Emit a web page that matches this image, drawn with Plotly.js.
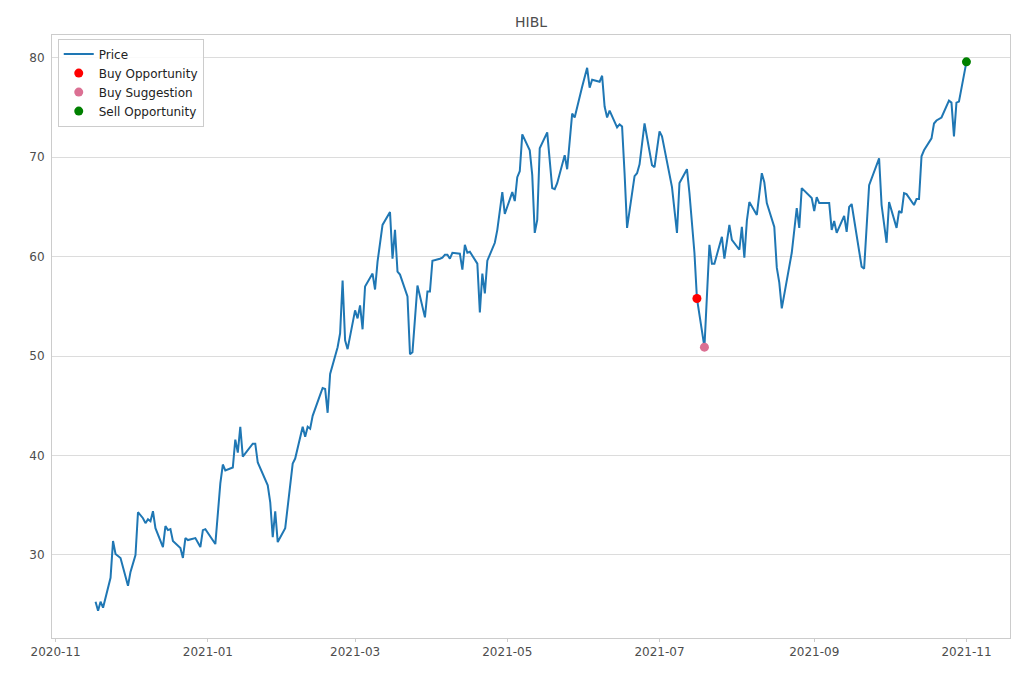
<!DOCTYPE html>
<html>
<head>
<meta charset="utf-8">
<script src="https://cdn.plot.ly/plotly-3.0.1.min.js"></script>
<style>html,body{margin:0;padding:0;background:#fff;}#chart{width:1020px;height:680px;}</style>
</head>
<body>
<div id="chart"></div>
<script>
const dates = [
"2020-11-17","2020-11-18","2020-11-19","2020-11-20","2020-11-23","2020-11-24","2020-11-25","2020-11-27","2020-11-30",
"2020-12-01","2020-12-03","2020-12-04","2020-12-06","2020-12-07","2020-12-08","2020-12-09","2020-12-10","2020-12-11",
"2020-12-14","2020-12-15","2020-12-16","2020-12-17","2020-12-18","2020-12-21","2020-12-22","2020-12-23","2020-12-24",
"2020-12-27","2020-12-29","2020-12-30","2020-12-31",
"2021-01-04","2021-01-06","2021-01-07","2021-01-08","2021-01-11","2021-01-12","2021-01-13","2021-01-14","2021-01-15",
"2021-01-19","2021-01-20","2021-01-21","2021-01-25","2021-01-26","2021-01-27","2021-01-28","2021-01-29",
"2021-02-01","2021-02-02","2021-02-04","2021-02-05","2021-02-08","2021-02-09","2021-02-10","2021-02-11","2021-02-12",
"2021-02-15","2021-02-16","2021-02-17","2021-02-18","2021-02-19","2021-02-22","2021-02-23","2021-02-24","2021-02-25","2021-02-26",
"2021-03-01","2021-03-02","2021-03-03","2021-03-04","2021-03-05","2021-03-08","2021-03-09","2021-03-10","2021-03-12",
"2021-03-15","2021-03-16","2021-03-17","2021-03-18","2021-03-19","2021-03-22","2021-03-23","2021-03-24","2021-03-26",
"2021-03-29","2021-03-30","2021-03-31",
"2021-04-01","2021-04-04","2021-04-05","2021-04-06","2021-04-07","2021-04-08","2021-04-09","2021-04-12","2021-04-13",
"2021-04-14","2021-04-15","2021-04-16","2021-04-19","2021-04-20","2021-04-21","2021-04-22","2021-04-23","2021-04-26",
"2021-04-27","2021-04-29","2021-04-30",
"2021-05-03","2021-05-04","2021-05-05","2021-05-06","2021-05-07","2021-05-10","2021-05-11","2021-05-12","2021-05-13",
"2021-05-14","2021-05-17","2021-05-19","2021-05-20","2021-05-21","2021-05-24","2021-05-25","2021-05-27","2021-05-28","2021-05-31",
"2021-06-02","2021-06-03","2021-06-04","2021-06-07","2021-06-08","2021-06-09","2021-06-10","2021-06-11","2021-06-14",
"2021-06-15","2021-06-16","2021-06-17","2021-06-18","2021-06-21","2021-06-22","2021-06-23","2021-06-25","2021-06-28","2021-06-29",
"2021-07-01","2021-07-02","2021-07-06","2021-07-08","2021-07-09","2021-07-12","2021-07-13","2021-07-15","2021-07-16",
"2021-07-19","2021-07-21","2021-07-22","2021-07-23","2021-07-26","2021-07-27","2021-07-29","2021-07-30",
"2021-08-02","2021-08-03","2021-08-04","2021-08-05","2021-08-06","2021-08-09","2021-08-11","2021-08-12","2021-08-13",
"2021-08-16","2021-08-17","2021-08-18","2021-08-19","2021-08-23","2021-08-24","2021-08-25","2021-08-26","2021-08-27","2021-08-31",
"2021-09-01","2021-09-02","2021-09-03","2021-09-07","2021-09-08","2021-09-09","2021-09-10","2021-09-13","2021-09-14",
"2021-09-15","2021-09-16","2021-09-20","2021-09-21","2021-09-23","2021-09-27","2021-09-28","2021-09-30",
"2021-10-01","2021-10-04","2021-10-05","2021-10-06","2021-10-07","2021-10-08","2021-10-11","2021-10-12","2021-10-13",
"2021-10-14","2021-10-15","2021-10-18","2021-10-19","2021-10-20","2021-10-22","2021-10-25","2021-10-26","2021-10-27",
"2021-10-28","2021-10-29","2021-11-01"
];
const prices = [
25.3,24.4,25.3,24.7,27.7,31.4,30.1,29.7,26.9,
28.3,30.0,34.3,33.7,33.2,33.6,33.4,34.4,32.7,
30.8,32.9,32.5,32.6,31.4,30.7,29.7,31.7,31.5,
31.7,30.8,32.5,32.6,
31.1,37.2,39.1,38.5,38.8,41.6,40.3,42.9,39.9,
41.2,41.2,39.3,37.0,35.3,31.8,34.4,31.3,
32.7,34.7,39.2,39.7,42.9,41.9,42.9,42.7,44.0,
46.1,46.8,46.7,44.3,48.2,50.9,52.3,57.6,51.6,50.7,
54.6,53.8,55.1,52.7,57.0,58.3,56.7,59.5,63.2,
64.5,59.8,62.7,58.5,58.2,56.0,50.2,50.4,57.1,
53.9,56.5,56.5,
59.6,59.8,59.9,60.2,60.2,59.8,60.4,60.3,58.7,
61.2,60.4,60.5,59.3,54.4,58.3,56.3,59.6,61.4,
62.7,66.5,64.3,
66.5,65.6,68.0,68.6,72.3,70.7,68.2,62.4,63.7,
70.9,72.5,66.9,66.8,67.4,70.2,68.8,74.4,74.0,77.1,
79.0,77.0,77.8,77.6,78.2,75.1,74.0,74.7,73.0,
73.3,73.1,68.4,62.9,68.1,68.4,69.3,73.4,69.2,69.0,
72.6,72.1,67.0,62.4,67.4,68.8,66.4,60.4,55.8,
50.9,61.2,59.3,59.3,62.0,59.8,63.2,61.7,
60.7,63.0,59.9,63.6,65.5,64.2,68.4,67.5,65.4,
63.0,58.9,57.4,54.8,60.4,62.7,64.9,62.9,66.9,65.9,
64.6,66.0,65.4,65.4,62.7,63.6,62.4,64.1,62.5,
65.0,65.3,59.0,58.8,67.2,69.9,65.2,61.4,
65.5,62.9,64.6,64.4,66.4,66.3,65.2,65.8,65.8,
70.1,70.7,71.9,73.4,73.7,74.0,75.7,75.5,72.1,
75.5,75.6,79.6
];
const buyOppDates = ["2021-07-16"];
const buyOppPrices = [55.8];
const buySugDates = ["2021-07-19"];
const buySugPrices = [50.9];
const sellOppDates = ["2021-11-01"];
const sellOppPrices = [79.6];
const xTickVals = ["2020-11-01","2021-01-01","2021-03-01","2021-05-01","2021-07-01","2021-09-01","2021-11-01"];
const xTickText = ["2020-11","2021-01","2021-03","2021-05","2021-07","2021-09","2021-11"];
const yTickVals = [30,40,50,60,70,80];

const font = "DejaVu Sans, sans-serif";
const traces = [
  {x: dates, y: prices, type: "scatter", mode: "lines", name: "Price",
   line: {color: "#1f77b4", width: 2}},
  {x: buyOppDates, y: buyOppPrices, type: "scatter", mode: "markers", name: "Buy Opportunity",
   marker: {color: "#ff0000", size: 9}},
  {x: buySugDates, y: buySugPrices, type: "scatter", mode: "markers", name: "Buy Suggestion",
   marker: {color: "#db7093", size: 9}},
  {x: sellOppDates, y: sellOppPrices, type: "scatter", mode: "markers", name: "Sell Opportunity",
   marker: {color: "#008000", size: 9}}
];
const layout = {
  width: 1020, height: 680,
  margin: {l: 52, r: 10, t: 35, b: 42, pad: 0},
  paper_bgcolor: "#ffffff", plot_bgcolor: "#ffffff",
  font: {family: font, size: 12, color: "#444"},
  title: {text: "HIBL", x: 0.5, xref: "paper", y: 1 - 22/680, yref: "container", yanchor: "middle",
          font: {family: font, size: 14, color: "#4d4d4d"}},
  showlegend: true,
  legend: {x: 0.006, y: 0.994, xanchor: "left", yanchor: "top", bgcolor: "rgba(255,255,255,0.85)",
           bordercolor: "#cccccc", borderwidth: 1, font: {family: font, size: 12, color: "#222"},
           tracegroupgap: 0, itemwidth: 30},
  xaxis: {type: "date", range: ["2020-10-30 13:00", "2021-11-18 11:00"],
          tickvals: xTickVals, ticktext: xTickText, showgrid: false, zeroline: false,
          showline: true, mirror: true, linecolor: "#cccccc", linewidth: 1,
          ticks: "outside", ticklen: 3, tickcolor: "#cccccc",
          tickfont: {family: font, size: 12, color: "#4d4d4d"}},
  yaxis: {range: [21.65, 82.3], tickvals: yTickVals, showgrid: true, gridcolor: "#dcdcdc", gridwidth: 1,
          zeroline: false, showline: true, mirror: true, linecolor: "#cccccc", linewidth: 1,
          ticks: "", ticklabelstandoff: 4,
          tickfont: {family: font, size: 12, color: "#4d4d4d"}}
};
Plotly.newPlot("chart", traces, layout, {displayModeBar: false, staticPlot: true});
</script>
</body>
</html>
